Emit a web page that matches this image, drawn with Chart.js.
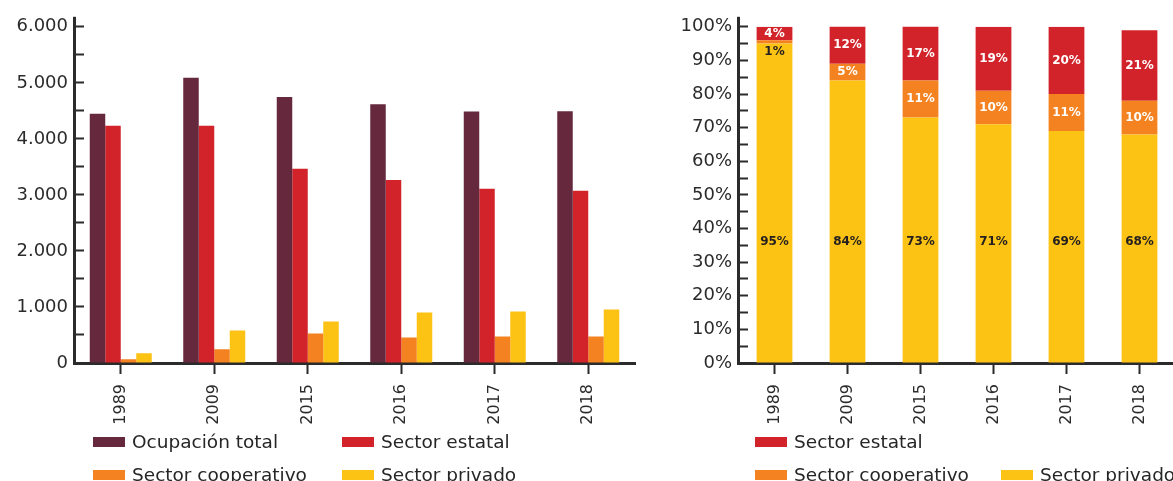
<!DOCTYPE html>
<html lang="es">
<head>
<meta charset="utf-8">
<title>Ocupación por sector</title>
<script src="https://cdn.jsdelivr.net/npm/chart.js@4.4.1/dist/chart.umd.min.js"></script>
<style>
  html, body { margin: 0; padding: 0; width: 1173px; height: 481px; overflow: hidden; background: #fff; }
  .wrap { position: absolute; top: 0; height: 430px; }
  #wrap-1 { left: 0; width: 650px; }
  #wrap-2 { left: 640px; width: 540px; }
  .legend { position: absolute; top: 425px; font-family: "DejaVu Sans"; font-size: 18.5px; color: #262626; }
  #legend-1 { left: 93px; }
  #legend-2 { left: 755px; }
  .legend .row { display: flex; height: 33px; align-items: center; }
  .legend .item { display: flex; align-items: center; white-space: nowrap; }
  .legend .swatch { display: inline-block; width: 32px; height: 10px; margin-right: 7px; }
</style>
</head>
<body>
<div class="wrap" id="wrap-1"><canvas id="chart-1"></canvas></div>
<div class="wrap" id="wrap-2"><canvas id="chart-2"></canvas></div>
<div class="legend" id="legend-1"></div>
<div class="legend" id="legend-2"></div>
<script>
// años
const years = ["1989", "2009", "2015", "2016", "2017", "2018"];

// miles de personas ocupadas
const ocupacionTotal = [4450, 5090, 4745, 4620, 4490, 4495];
const sectorEstatal = [4235, 4235, 3465, 3268, 3108, 3073];
const sectorCooperativo = [65, 244, 528, 457, 475, 475];
const sectorPrivado = [173, 582, 742, 902, 920, 955];

// estructura en %
const pctEstatal = [4, 12, 17, 19, 20, 21];
const pctCooperativo = [1, 5, 11, 10, 11, 10];
const pctPrivado = [95, 84, 73, 71, 69, 68];

const ink = "#2b2b2b";
const colors = {
  total: "#65283c",
  estatal: "#d2232a",
  coop: "#f48221",
  privado: "#fcc214",
};

Chart.defaults.font.family = "DejaVu Sans";
Chart.defaults.color = ink;

function miles(v) {
  return String(v).replace(/\B(?=(\d{3})+(?!\d))/g, ".");
}

function yAxis(max, step, width, fmt) {
  return {
    min: 0,
    max: max,
    border: { color: ink, width: 3 },
    grid: { drawOnChartArea: false, tickLength: -10, tickWidth: 2, tickColor: ink },
    ticks: { stepSize: step, autoSkip: false, padding: 16, color: ink, font: { size: 18 }, callback: fmt },
    afterFit: (s) => { s.width = width; },
  };
}

function xAxis(stacked) {
  return {
    stacked: stacked,
    border: { color: ink, width: 3 },
    grid: { offset: false, drawOnChartArea: false, tickLength: 11, tickWidth: 2, tickColor: ink },
    ticks: { minRotation: 90, maxRotation: 90, autoSkip: false, padding: 10, color: ink, font: { size: 16 } },
    afterFit: (s) => { s.height = 67; },
  };
}

// eje vertical un poco más largo que el área
const axisCap = {
  id: "axisCap",
  afterDraw(chart) {
    const { ctx, chartArea } = chart;
    const x = Math.round(chartArea.left - 1.5) + 1.5;
    ctx.save();
    ctx.strokeStyle = ink;
    ctx.lineWidth = 3;
    ctx.beginPath();
    ctx.moveTo(x, chartArea.top - 10);
    ctx.lineTo(x, chartArea.top + 1);
    ctx.stroke();
    ctx.restore();
  },
};

// etiquetas % dentro de las barras
const pctLabels = {
  id: "pctLabels",
  afterDatasetsDraw(chart) {
    const { ctx, chartArea } = chart;
    const yScale = chart.scales.y;
    ctx.save();
    ctx.font = "bold 12px 'DejaVu Sans'";
    ctx.textAlign = "center";
    ctx.textBaseline = "middle";
    chart.data.datasets.forEach((ds, i) => {
      chart.getDatasetMeta(i).data.forEach((bar, j) => {
        const top = Math.max(bar.y, chartArea.top);
        let ty = (top + bar.base) / 2;
        let color = "#fff";
        if (ds.labelAt !== undefined) {
          ty = yScale.getPixelForValue(ds.labelAt);
          color = "#231f20";
        } else if (bar.base - top < 10) {
          ty = bar.base + 8;
          color = "#231f20";
        }
        ctx.fillStyle = color;
        ctx.fillText(ds.data[j] + "%", bar.x, ty);
      });
    });
    ctx.restore();
  },
};

function buildLegend(el, chart, rows, colWidth) {
  rows.forEach((row) => {
    const r = document.createElement("div");
    r.className = "row";
    row.forEach((i) => {
      const ds = chart.data.datasets[i];
      const it = document.createElement("div");
      it.className = "item";
      it.style.width = colWidth + "px";
      const sw = document.createElement("span");
      sw.className = "swatch";
      sw.style.background = ds.backgroundColor;
      it.appendChild(sw);
      it.appendChild(document.createTextNode(ds.label));
      r.appendChild(it);
    });
    el.appendChild(r);
  });
}

// ============== barras agrupadas ==============
const ctx1 = document.getElementById("chart-1").getContext("2d");
const chart1 = new Chart(ctx1, {
  type: "bar",
  data: {
    labels: years,
    datasets: [
      { label: "Ocupación total", data: ocupacionTotal, backgroundColor: colors.total },
      { label: "Sector estatal", data: sectorEstatal, backgroundColor: colors.estatal },
      { label: "Sector cooperativo", data: sectorCooperativo, backgroundColor: colors.coop },
      { label: "Sector privado", data: sectorPrivado, backgroundColor: colors.privado },
    ],
  },
  options: {
    responsive: true,
    maintainAspectRatio: false,
    animation: false,
    categoryPercentage: 0.663,
    barPercentage: 1,
    layout: { padding: { top: 26, right: 15, left: 0, bottom: 0 } },
    plugins: { legend: { display: false }, tooltip: { enabled: false } },
    scales: {
      x: xAxis(false),
      y: yAxis(6000, 500, 74, (v) => (v % 1000 === 0 ? miles(v) : "")),
    },
  },
  plugins: [axisCap],
});

// ============== barras 100% ==============
const ctx2 = document.getElementById("chart-2").getContext("2d");
const chart2 = new Chart(ctx2, {
  type: "bar",
  data: {
    labels: years,
    datasets: [
      { label: "Sector privado", data: pctPrivado, backgroundColor: colors.privado, labelAt: 36 },
      { label: "Sector cooperativo", data: pctCooperativo, backgroundColor: colors.coop },
      { label: "Sector estatal", data: pctEstatal, backgroundColor: colors.estatal },
    ],
  },
  options: {
    responsive: true,
    maintainAspectRatio: false,
    animation: false,
    categoryPercentage: 1,
    barPercentage: 0.49,
    layout: { padding: { top: 26, right: 4, left: 0, bottom: 0 } },
    plugins: { legend: { display: false }, tooltip: { enabled: false } },
    scales: {
      x: xAxis(true),
      y: Object.assign(yAxis(100, 5, 98, (v) => (v % 10 === 0 ? v + "%" : "")), { stacked: true }),
    },
  },
  plugins: [axisCap, pctLabels],
});

buildLegend(document.getElementById("legend-1"), chart1, [[0, 1], [2, 3]], 249);
buildLegend(document.getElementById("legend-2"), chart2, [[2], [1, 0]], 246);
</script>
</body>
</html>
